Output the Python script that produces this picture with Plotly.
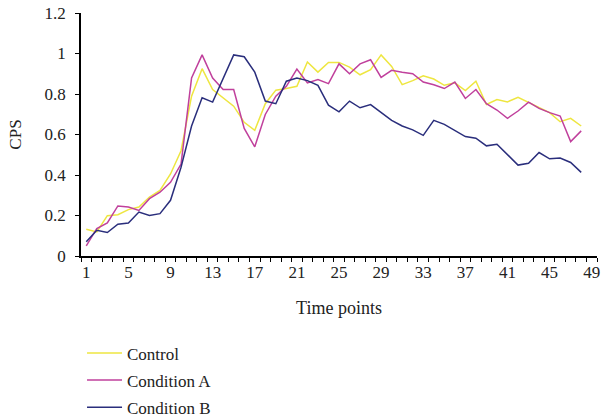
import plotly.graph_objects as go

time_points = list(range(1, 49))
x_tick_vals = [1, 5, 9, 13, 17, 21, 25, 29, 33, 37, 41, 45, 49]
x_tick_text = [str(v) for v in x_tick_vals]
y_tick_vals = [0, 0.2, 0.4, 0.6, 0.8, 1, 1.2]
y_tick_text = ["0", "0.2", "0.4", "0.6", "0.8", "1", "1.2"]

control = [0.132, 0.119, 0.199, 0.204, 0.229, 0.242, 0.291, 0.324, 0.405, 0.52,
           0.789, 0.925, 0.822, 0.781, 0.74, 0.66, 0.621, 0.752, 0.819, 0.827,
           0.838, 0.958, 0.908, 0.956, 0.956, 0.933, 0.895, 0.92, 0.993, 0.936,
           0.846, 0.866, 0.89, 0.874, 0.843, 0.855, 0.817, 0.863, 0.748, 0.773,
           0.761, 0.784, 0.76, 0.735, 0.708, 0.663, 0.68, 0.642]
condition_a = [0.05, 0.136, 0.163, 0.247, 0.242, 0.225, 0.283, 0.315, 0.364, 0.454,
               0.879, 0.993, 0.879, 0.822, 0.822, 0.63, 0.539, 0.699, 0.789, 0.838,
               0.923, 0.855, 0.871, 0.851, 0.949, 0.9, 0.949, 0.969, 0.882, 0.917,
               0.907, 0.9, 0.859, 0.846, 0.827, 0.859, 0.778, 0.822, 0.752, 0.721,
               0.68, 0.716, 0.76, 0.729, 0.708, 0.691, 0.565, 0.618]
condition_b = [0.07, 0.127, 0.116, 0.157, 0.163, 0.217, 0.2, 0.209, 0.275, 0.438,
               0.642, 0.781, 0.76, 0.879, 0.993, 0.984, 0.908, 0.765, 0.752, 0.863,
               0.879, 0.866, 0.843, 0.745, 0.712, 0.765, 0.732, 0.748, 0.708, 0.67,
               0.642, 0.623, 0.596, 0.67, 0.65, 0.621, 0.59, 0.582, 0.544, 0.552,
               0.503, 0.449, 0.458, 0.511, 0.48, 0.484, 0.462, 0.413]

series = [
    ("Control", control, "#eee640"),
    ("Condition A", condition_a, "#c0409c"),
    ("Condition B", condition_b, "#2a2e7c"),
]

FONT = "Liberation Serif"

fig = go.Figure()
for name, vals, color in series:
    fig.add_trace(go.Scatter(x=time_points, y=vals, mode="lines", name=name,
                             legendgroup=name,
                             line=dict(color=color, width=1.5)))

fig.update_layout(
    width=605, height=419,
    margin=dict(l=81, r=8, t=13, b=163, autoexpand=False),
    paper_bgcolor="white", plot_bgcolor="white",
    font=dict(family=FONT, size=17, color="#222222"),
    showlegend=True,
    legend=dict(x=0.002, y=-0.327, xanchor="left", yanchor="top",
                font=dict(family=FONT, size=17, color="#222222"),
                bgcolor="rgba(0,0,0,0)", tracegroupgap=2, itemwidth=35),
)
fig.update_xaxes(
    range=[0.5, 49.5], tickmode="array", tickvals=x_tick_vals, ticktext=x_tick_text,
    ticks="", showgrid=False, zeroline=False, automargin=False,
    ticklabeloverflow="allow",
    showline=True, linecolor="black", linewidth=1.5,
    minor=dict(ticks="outside", tick0=0.5, dtick=1, ticklen=4, tickcolor="black",
               tickwidth=1, showgrid=False),
    title=dict(text="Time points", font=dict(family=FONT, size=18), standoff=20),
    tickfont=dict(family=FONT, size=17),
)
fig.update_yaxes(
    range=[0, 1.2], tickmode="array", tickvals=y_tick_vals, ticktext=y_tick_text,
    ticks="outside", ticklen=4, tickcolor="black", tickwidth=1,
    showgrid=False, zeroline=False, automargin=False,
    ticklabeloverflow="allow",
    showline=True, linecolor="black", linewidth=1.5,
    ticklabelstandoff=6,
    title=dict(text="CPS", font=dict(family=FONT, size=17), standoff=19),
    tickfont=dict(family=FONT, size=17),
)

# remove the default page margin so the 605x419 figure fills the window exactly
fig.write_html(
    "out.html",
    config={"displayModeBar": False},
    post_script="document.body.style.margin='0';document.documentElement.style.overflow='hidden';",
)
